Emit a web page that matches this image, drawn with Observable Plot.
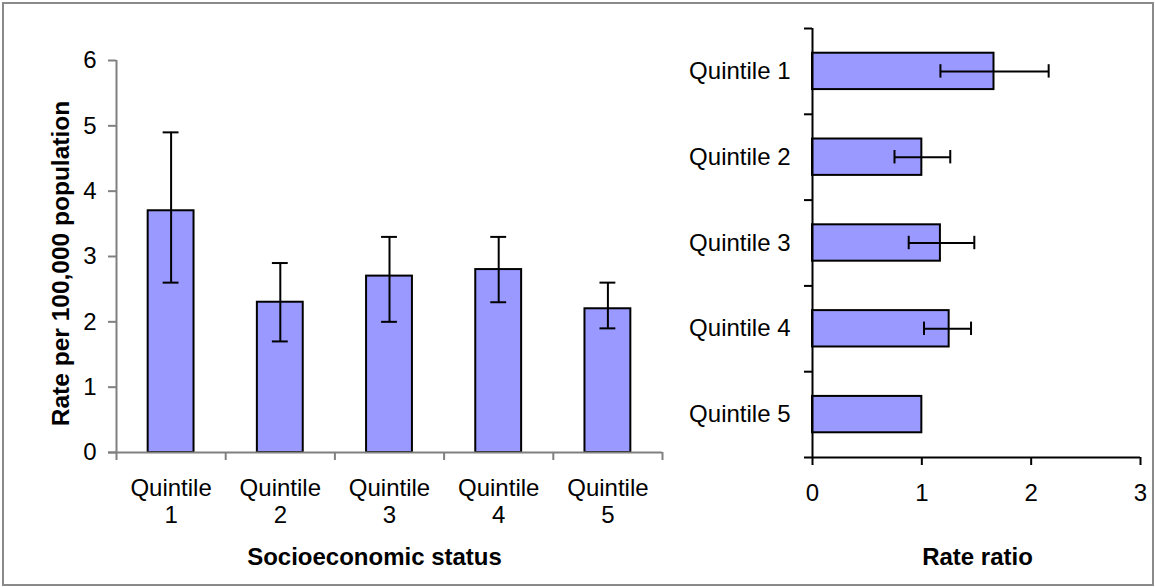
<!DOCTYPE html>
<html>
<head>
<meta charset="utf-8">
<script src="https://cdn.jsdelivr.net/npm/d3@7"></script>
<script src="https://cdn.jsdelivr.net/npm/@observablehq/plot@0.6"></script>
<style>
  html, body { margin: 0; padding: 0; background: #fff; }
  #wrap { position: relative; width: 1155px; height: 587px; overflow: hidden; font-family: "Liberation Sans", Arial, sans-serif; }
  #frame { position: absolute; left: 2px; top: 2px; width: 1152px; height: 584px; border: 2px solid #8a8a8a; box-sizing: border-box; }
  #left, #right { position: absolute; top: 0; }
  #left { left: 0; }
  #right { left: 680px; }
  svg { overflow: visible; }
</style>
</head>
<body>
<div id="wrap"><div id="frame"></div><div id="left"></div><div id="right"></div></div>
<script>
// ---- data ----
const categories = ["Quintile 1", "Quintile 2", "Quintile 3", "Quintile 4", "Quintile 5"];
const rate = [3.7, 2.3, 2.7, 2.8, 2.2];
const rateLow = [2.6, 1.7, 2.0, 2.3, 1.9];
const rateHigh = [4.9, 2.9, 3.3, 3.3, 2.6];
const ratio = [1.66, 1.0, 1.17, 1.25, 1.0];
const ratioLow = [1.17, 0.75, 0.88, 1.02, null];
const ratioHigh = [2.16, 1.26, 1.48, 1.45, null];
const rateTicks = [0, 1, 2, 3, 4, 5, 6];
const ratioTicks = [0, 1, 2, 3];

const leftData = categories.map((c, i) => ({cat: c, v: rate[i], lo: rateLow[i], hi: rateHigh[i]}));
const rightData = categories.map((c, i) => ({cat: c, v: ratio[i], lo: ratioLow[i], hi: ratioHigh[i]}));
const rightErr = rightData.filter(d => d.lo != null && d.hi != null);

const FILL = "#9999FF";
const GRAY = "#808080";
const FONT = "'Liberation Sans', Arial, sans-serif";

// ---- left panel ----
const LW = 680, LH = 587, LML = 116, LMR = 18, LMT = 60, LMB = 135;
const lStep = (LW - LML - LMR) / categories.length;
const lFrameH = LH - LMT - LMB;

const leftPlot = Plot.plot({
  width: LW, height: LH,
  marginLeft: LML, marginRight: LMR, marginTop: LMT, marginBottom: LMB,
  style: {fontFamily: FONT, fontSize: "24px", color: "black", background: "transparent", overflow: "visible"},
  x: {domain: categories, paddingInner: 0.58, paddingOuter: 0.29, round: false, axis: null},
  y: {domain: [0, 6], axis: null},
  marks: [
    Plot.barY(leftData, {x: "cat", y: "v", fill: FILL, stroke: "black", strokeWidth: 2}),
    Plot.ruleX(leftData, {x: "cat", y1: "lo", y2: "hi", stroke: "black", strokeWidth: 2}),
    Plot.tickY(leftData, {x: "cat", y: "lo", stroke: "black", strokeWidth: 2, insetLeft: 15, insetRight: 15}),
    Plot.tickY(leftData, {x: "cat", y: "hi", stroke: "black", strokeWidth: 2, insetLeft: 15, insetRight: 15}),
    // y axis line
    Plot.ruleX([categories[0]], {x: d => d, dx: -lStep / 2, stroke: GRAY, strokeWidth: 2}),
    // x axis line
    Plot.ruleY([0], {stroke: GRAY, strokeWidth: 2, insetLeft: -8}),
    // category boundary ticks
    Plot.ruleX(categories, {x: d => d, dx: -lStep / 2, stroke: GRAY, strokeWidth: 2, insetTop: lFrameH, insetBottom: -8}),
    Plot.ruleX([categories[categories.length - 1]], {x: d => d, dx: lStep / 2, stroke: GRAY, strokeWidth: 2, insetTop: lFrameH, insetBottom: -8}),
    Plot.axisY({ticks: rateTicks, tickFormat: d => String(d), tickSize: 8, tickPadding: 12, stroke: GRAY, strokeWidth: 2, fontSize: 24, fill: "black", label: null}),
    Plot.axisX({tickSize: 0, tickPadding: 24, fontSize: 24, lineHeight: 1.13, fill: "black", label: null,
      tickFormat: d => d.replace(" ", "\n")}),
    Plot.text(["Socioeconomic status"], {frameAnchor: "bottom", lineAnchor: "middle", dx: -15, dy: 105, fontWeight: "bold", fontSize: 24, fill: "black"}),
    Plot.text(["Rate per 100,000 population"], {frameAnchor: "left", textAnchor: "middle", lineAnchor: "middle", rotate: -90, dx: -55, dy: 7, fontWeight: "bold", fontSize: 24.5, fill: "black"})
  ]
});
document.getElementById("left").appendChild(leftPlot);

// ---- right panel ----
const RW = 475, RH = 587, RML = 132, RMR = 15, RMT = 28, RMB = 130;
const rStep = (RH - RMT - RMB) / categories.length;
const rFrameW = RW - RML - RMR;

const rightPlot = Plot.plot({
  width: RW, height: RH,
  marginLeft: RML, marginRight: RMR, marginTop: RMT, marginBottom: RMB,
  style: {fontFamily: FONT, fontSize: "24px", color: "black", background: "transparent", overflow: "visible"},
  x: {domain: [0, 3], axis: null},
  y: {domain: categories, paddingInner: 0.576, paddingOuter: 0.288, round: false, axis: null},
  marks: [
    Plot.barX(rightData, {y: "cat", x: "v", fill: FILL, stroke: "black", strokeWidth: 2}),
    Plot.ruleY(rightErr, {y: "cat", x1: "lo", x2: "hi", stroke: "black", strokeWidth: 2}),
    Plot.tickX(rightErr, {y: "cat", x: "lo", stroke: "black", strokeWidth: 2, insetTop: 11.5, insetBottom: 11.5}),
    Plot.tickX(rightErr, {y: "cat", x: "hi", stroke: "black", strokeWidth: 2, insetTop: 11.5, insetBottom: 11.5}),
    // y axis line
    Plot.ruleX([0], {stroke: "black", strokeWidth: 2}),
    // boundary ticks
    Plot.ruleY(categories, {y: d => d, dy: -rStep / 2, stroke: "black", strokeWidth: 2, insetLeft: -8, insetRight: rFrameW}),
    // x axis line (bottom boundary)
    Plot.ruleY([categories[categories.length - 1]], {y: d => d, dy: rStep / 2, stroke: "black", strokeWidth: 2, insetLeft: -8}),
    Plot.axisX({ticks: ratioTicks, tickFormat: d => String(d), tickSize: 8, tickPadding: 18, stroke: "black", strokeWidth: 2, fontSize: 24, fill: "black", label: null}),
    Plot.axisY({tickSize: 0, tickPadding: 22, fontSize: 24, fill: "black", label: null}),
    Plot.text(["Rate ratio"], {frameAnchor: "bottom", lineAnchor: "middle", dx: 1, dy: 100, fontWeight: "bold", fontSize: 24, fill: "black"})
  ]
});
document.getElementById("right").appendChild(rightPlot);
</script>
</body>
</html>
